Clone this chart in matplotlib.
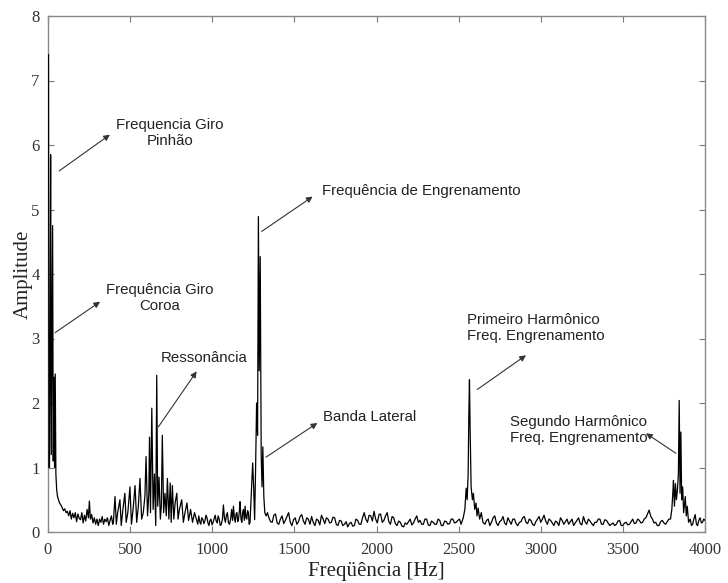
import matplotlib
matplotlib.use("Agg")
import matplotlib.pyplot as plt
import numpy as np

# ---- data ----
f_low = [3, 6, 9, 12, 16, 20, 24, 28, 32, 36, 40, 44, 48, 53, 58, 64, 70, 78, 86, 94, 102, 110, 118]
a_low = [7.4, 1.0, 1.0, 2.5, 5.85, 1.2, 3.0, 4.75, 1.1, 2.4, 1.0, 2.45, 0.9, 0.65, 0.55, 0.5, 0.45, 0.42, 0.38, 0.33, 0.36, 0.3, 0.32]

f_fl1 = [126, 134, 142, 150, 158, 166, 174, 182, 190, 198, 206, 214, 222, 230, 238, 246, 252, 258, 266, 274, 282, 290,
         298, 306, 314, 322, 330, 338, 346, 354, 362, 370, 378, 386, 394]
a_fl1 = [0.25, 0.33, 0.2, 0.29, 0.22, 0.3, 0.16, 0.28, 0.21, 0.19, 0.3, 0.14, 0.26, 0.17, 0.35, 0.22, 0.48, 0.2, 0.27,
         0.14, 0.22, 0.12, 0.2, 0.1, 0.2, 0.15, 0.24, 0.12, 0.2, 0.16, 0.22, 0.1, 0.18, 0.25, 0.12]

f_res = [398, 408, 416, 424, 438, 446, 456, 468, 476, 486, 499, 508, 518, 530, 540, 550, 560, 570, 580, 590,
         597, 606, 614, 618, 624, 632, 640, 648, 656, 662, 668, 676, 684, 690, 696, 704, 712, 720, 727, 736,
         744, 750, 757, 766, 774, 784, 792, 800, 814, 824, 834, 846, 856, 868, 880, 892]
a_res = [0.15, 0.55, 0.12, 0.3, 0.5, 0.1, 0.35, 0.6, 0.15, 0.3, 0.7, 0.12, 0.35, 0.72, 0.15, 0.4, 0.83, 0.2, 0.3, 0.55,
         1.17, 0.25, 0.6, 1.47, 0.3, 1.92, 0.35, 0.9, 0.1, 2.43, 0.4, 0.85, 0.2, 0.4, 1.5, 0.3, 0.6, 0.25, 0.83, 0.2,
         0.76, 0.15, 0.72, 0.2, 0.45, 0.6, 0.2, 0.35, 0.5, 0.15, 0.3, 0.45, 0.18, 0.35, 0.15, 0.3]

f_fl2 = [905, 912, 918, 924, 930, 936, 942, 949, 955, 962, 968, 974, 980, 986, 992, 999, 1005, 1012, 1018, 1024, 1030,
         1036, 1042, 1049, 1055, 1062, 1068, 1074, 1080, 1086, 1092, 1099, 1105, 1112, 1118, 1124, 1129, 1135, 1140,
         1145, 1150, 1155, 1160, 1165, 1169, 1175, 1180, 1185, 1190, 1195, 1200, 1205, 1210, 1215, 1220, 1225, 1230]
a_fl2 = [0.18, 0.12, 0.25, 0.16, 0.12, 0.22, 0.2, 0.13, 0.17, 0.26, 0.22, 0.14, 0.1, 0.18, 0.2, 0.11, 0.15, 0.21, 0.26,
         0.17, 0.14, 0.25, 0.2, 0.1, 0.12, 0.2, 0.42, 0.22, 0.15, 0.26, 0.3, 0.14, 0.12, 0.2, 0.35, 0.18, 0.4, 0.22,
         0.15, 0.28, 0.3, 0.16, 0.2, 0.32, 0.47, 0.2, 0.15, 0.3, 0.35, 0.18, 0.4, 0.22, 0.2, 0.33, 0.3, 0.12, 0.15]

f_mesh = [1238, 1246, 1252, 1258, 1264, 1270, 1276, 1281, 1286, 1292, 1298, 1303, 1308, 1314, 1320, 1328, 1336]
a_mesh = [0.6, 1.07, 0.7, 0.19, 1.0, 2.0, 1.5, 4.89, 2.5, 4.27, 1.2, 0.7, 1.32, 0.55, 0.3, 0.25, 0.3]

f_fl3 = [1345, 1355, 1365, 1375, 1385, 1395, 1405, 1415, 1425, 1435, 1445, 1455, 1465, 1475, 1485, 1495, 1505, 1515,
         1525, 1535, 1545, 1555, 1565, 1575, 1585, 1595, 1605, 1615, 1625, 1635, 1645, 1655, 1665, 1675, 1685, 1695,
         1705, 1715, 1725, 1735, 1745, 1755, 1765, 1775, 1785, 1795, 1805, 1815, 1825, 1835, 1845, 1855, 1865, 1875,
         1885, 1895, 1905, 1915, 1925, 1935, 1945, 1955, 1965, 1975, 1985, 1995, 2005, 2015, 2025, 2035, 2045, 2055,
         2065, 2075, 2085, 2095, 2105, 2115, 2125, 2135, 2145, 2155, 2165, 2175, 2185, 2195, 2205, 2215, 2225, 2235,
         2245, 2255, 2265, 2275, 2285, 2295, 2305, 2315, 2325, 2335, 2345, 2355, 2365, 2375, 2385, 2395, 2405, 2415,
         2425, 2435, 2445, 2455, 2465, 2475, 2485, 2495]
a_fl3 = [0.22, 0.16, 0.15, 0.26, 0.28, 0.14, 0.12, 0.2, 0.25, 0.13, 0.18, 0.24, 0.3, 0.15, 0.1, 0.19, 0.22, 0.12,
         0.16, 0.24, 0.27, 0.17, 0.12, 0.22, 0.2, 0.12, 0.24, 0.15, 0.1, 0.2, 0.18, 0.11, 0.26, 0.2, 0.13, 0.22,
         0.2, 0.14, 0.15, 0.23, 0.22, 0.12, 0.1, 0.18, 0.17, 0.1, 0.12, 0.16, 0.08, 0.13, 0.15, 0.09, 0.1, 0.2,
         0.18, 0.12, 0.12, 0.22, 0.3, 0.2, 0.15, 0.26, 0.25, 0.17, 0.32, 0.2, 0.14, 0.27, 0.28, 0.15, 0.18, 0.25,
         0.3, 0.16, 0.12, 0.24, 0.22, 0.13, 0.1, 0.17, 0.15, 0.09, 0.08, 0.14, 0.12, 0.16, 0.2, 0.11, 0.14, 0.2,
         0.25, 0.15, 0.18, 0.12, 0.12, 0.2, 0.2, 0.11, 0.1, 0.17, 0.15, 0.12, 0.12, 0.2, 0.18, 0.1, 0.1, 0.17,
         0.16, 0.12, 0.13, 0.2, 0.2, 0.14, 0.15, 0.18]

f_h1 = [2505, 2515, 2528, 2538, 2546, 2552, 2558, 2562, 2566, 2570, 2576, 2584, 2590, 2598, 2606, 2612, 2619, 2628, 2638, 2648]
a_h1 = [0.2, 0.12, 0.22, 0.35, 0.68, 0.5, 0.9, 1.8, 2.36, 1.6, 0.7, 0.5, 0.6, 0.35, 0.45, 0.25, 0.37, 0.2, 0.3, 0.15]

f_fl4 = [2660, 2670, 2680, 2690, 2700, 2710, 2720, 2730, 2740, 2750, 2760, 2770, 2780, 2790, 2800, 2810, 2820, 2830,
         2840, 2850, 2860, 2870, 2880, 2890, 2900, 2910, 2920, 2930, 2940, 2950, 2960, 2970, 2980, 2990, 3000, 3010,
         3020, 3030, 3040, 3050, 3060, 3070, 3080, 3090, 3100, 3110, 3120, 3130, 3140, 3150, 3160, 3170, 3180, 3190,
         3200, 3210, 3220, 3230, 3240, 3250, 3260, 3270, 3280, 3290, 3300, 3310, 3320, 3330, 3340, 3350, 3360, 3370,
         3380, 3390, 3400, 3410, 3420, 3430, 3440, 3450, 3460, 3470, 3480, 3490, 3500, 3510, 3520, 3530, 3540, 3550,
         3560, 3570, 3580, 3590, 3600, 3610, 3620, 3630, 3640, 3650, 3660, 3670, 3680, 3690, 3700, 3710, 3720, 3730,
         3740, 3750, 3760, 3770, 3780]
a_fl4 = [0.12, 0.18, 0.2, 0.1, 0.15, 0.22, 0.25, 0.14, 0.1, 0.16, 0.18, 0.24, 0.14, 0.11, 0.22, 0.17, 0.12, 0.2,
         0.2, 0.13, 0.1, 0.15, 0.16, 0.22, 0.24, 0.15, 0.13, 0.2, 0.18, 0.12, 0.1, 0.16, 0.2, 0.24, 0.15, 0.2,
         0.26, 0.17, 0.12, 0.2, 0.18, 0.14, 0.1, 0.17, 0.15, 0.1, 0.22, 0.18, 0.12, 0.16, 0.2, 0.12, 0.16, 0.2,
         0.1, 0.14, 0.18, 0.22, 0.13, 0.11, 0.24, 0.16, 0.12, 0.2, 0.17, 0.13, 0.1, 0.15, 0.15, 0.2, 0.2, 0.12,
         0.12, 0.19, 0.18, 0.14, 0.1, 0.12, 0.14, 0.1, 0.12, 0.17, 0.18, 0.1, 0.1, 0.14, 0.15, 0.11, 0.12, 0.16,
         0.2, 0.13, 0.14, 0.2, 0.18, 0.14, 0.15, 0.2, 0.22, 0.28, 0.34, 0.24, 0.2, 0.14, 0.15, 0.1, 0.1, 0.16,
         0.18, 0.14, 0.12, 0.16, 0.2]

f_h2 = [3790, 3798, 3804, 3808, 3814, 3820, 3826, 3832, 3838, 3843, 3848, 3853, 3858, 3864, 3870, 3876, 3880, 3886, 3892, 3900]
a_h2 = [0.2, 0.35, 0.6, 0.8, 0.4, 0.75, 0.5, 0.65, 0.9, 2.04, 0.6, 1.55, 0.5, 0.7, 0.3, 0.45, 0.55, 0.25, 0.4, 0.15]

f_fl5 = [3910, 3918, 3925, 3932, 3940, 3948, 3955, 3962, 3970, 3978, 3985, 3992, 4000]
a_fl5 = [0.2, 0.1, 0.12, 0.2, 0.27, 0.12, 0.1, 0.18, 0.22, 0.14, 0.15, 0.2, 0.18]

x_ticks = [0, 500, 1000, 1500, 2000, 2500, 3000, 3500, 4000]
y_ticks = [0, 1, 2, 3, 4, 5, 6, 7, 8]

segs_f = [f_low, f_fl1, f_res, f_fl2, f_mesh, f_fl3, f_h1, f_fl4, f_h2, f_fl5]
segs_a = [a_low, a_fl1, a_res, a_fl2, a_mesh, a_fl3, a_h1, a_fl4, a_h2, a_fl5]
for sf, sa in zip(segs_f, segs_a):
    assert len(sf) == len(sa), (sf[0], len(sf), len(sa))
freq = sum(segs_f, [])
amp = sum(segs_a, [])

# ---- figure ----
fig = plt.figure(figsize=(7.28, 5.83), dpi=100)
ax = fig.add_axes([48 / 728, 51 / 583, 657 / 728, 516 / 583])

ax.plot(freq, amp, color="black", lw=0.9, zorder=3)

ax.set_xlim(0, 4000)
ax.set_ylim(0, 8)
ax.set_xticks(x_ticks)
ax.set_yticks(y_ticks)
serif = "Liberation Serif"
ax.set_xticklabels([str(t) for t in x_ticks], family=serif, fontsize=12, color="#333333")
ax.set_yticklabels([str(t) for t in y_ticks], family=serif, fontsize=12, color="#333333")
ax.tick_params(direction="in", length=4, width=0.8, color="#777777", top=True, right=True)
ax.tick_params(axis="x", pad=7)
ax.tick_params(axis="y", pad=6)
for s in ax.spines.values():
    s.set_color("#888888")
    s.set_linewidth(1.0)

ax.set_xlabel("Freqüência [Hz]", family=serif, fontsize=15, color="#222222", labelpad=3)
ax.set_ylabel("Amplitude", family=serif, fontsize=15, color="#222222", labelpad=-1)

sans = "Liberation Sans"
akw = dict(arrowstyle="-|>", color="#333333", lw=0.8, mutation_scale=9, shrinkA=0, shrinkB=0)
tkw = dict(family=sans, fontsize=10.8, color="#222222", linespacing=1.2)

# annotations (arrows)
arrows = [
    ((69, 5.60), (377, 6.16)),
    ((43, 3.09), (317, 3.57)),
    ((672, 1.63), (905, 2.49)),
    ((1301, 4.66), (1611, 5.20)),
    ((1327, 1.16), (1640, 1.69)),
    ((2614, 2.21), (2910, 2.74)),
    ((3823, 1.22), (3641, 1.53)),
]
for tail, head in arrows:
    ax.annotate("", xy=head, xytext=tail, arrowprops=akw)

ax.text(743, 6.19, "Frequencia Giro\nPinhão", ha="center", va="center", **tkw)
ax.text(682, 3.63, "Frequência Giro\nCoroa", ha="center", va="center", **tkw)
ax.text(950, 2.70, "Ressonância", ha="center", va="center", **tkw)
ax.text(1668, 5.28, "Frequência de Engrenamento", ha="left", va="center", **tkw)
ax.text(1672, 1.79, "Banda Lateral", ha="left", va="center", **tkw)
ax.text(2553, 3.16, "Primeiro Harmônico\nFreq. Engrenamento", ha="left", va="center", **tkw)
ax.text(2813, 1.58, "Segundo Harmônico\nFreq. Engrenamento", ha="left", va="center", **tkw)

fig.savefig("out.png", dpi=100)
